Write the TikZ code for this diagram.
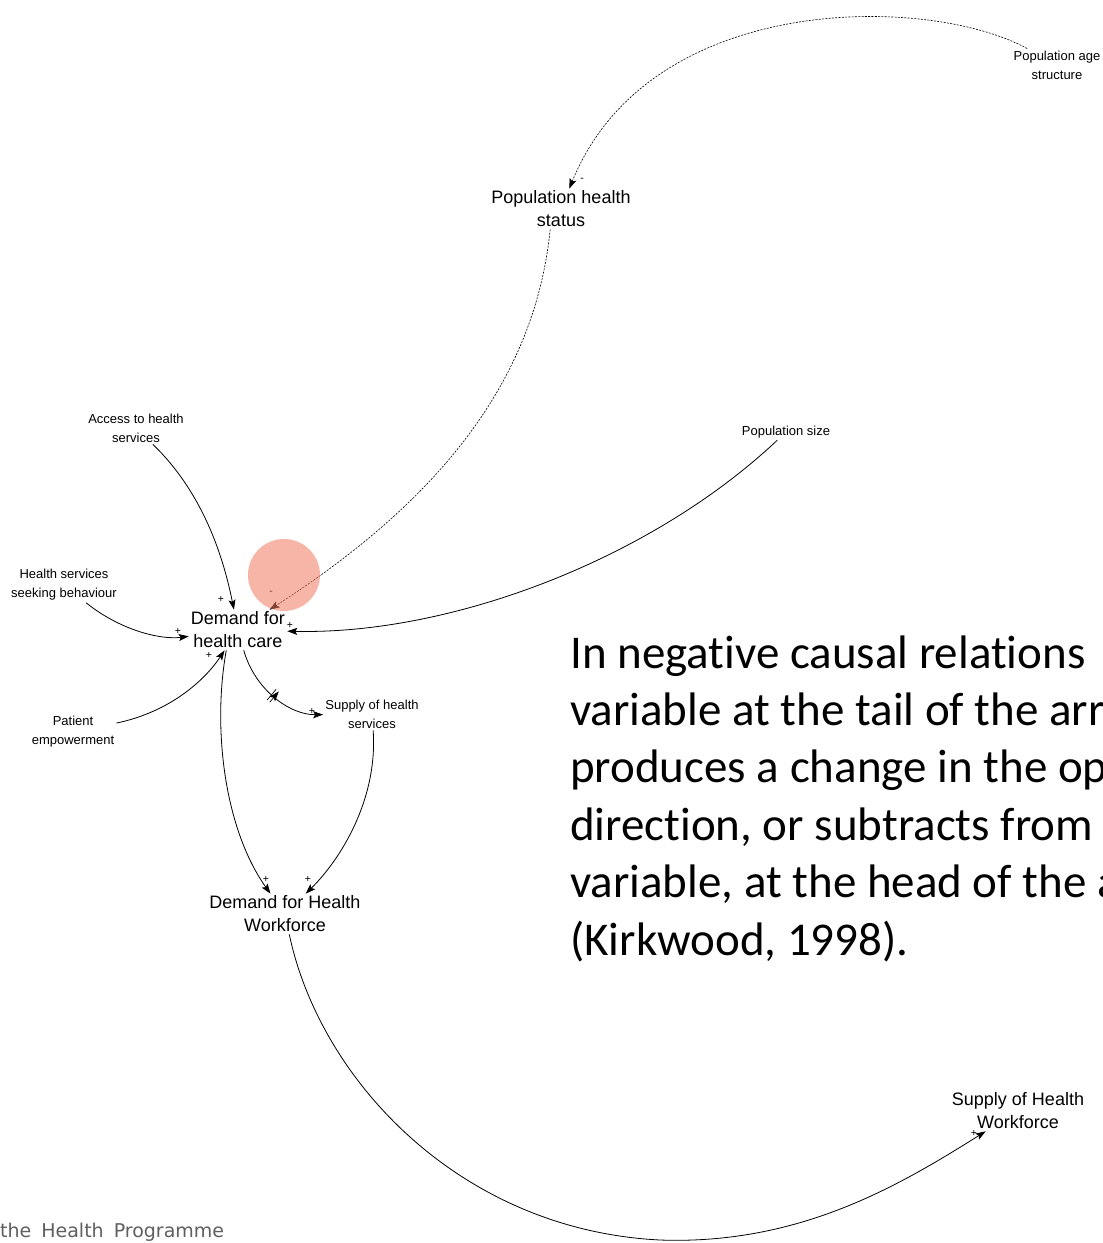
\documentclass[tikz,border=0pt]{standalone}
\usepackage{fontspec}
\setmainfont{Liberation Sans}
\newfontfamily\bodyfont{Carlito}[Ligatures={NoCommon}]
\newfontfamily\footfont{DejaVu Sans}
\usetikzlibrary{arrows.meta,decorations.markings}
\definecolor{hilite}{RGB}{238,120,95}
\definecolor{footgray}{RGB}{95,95,95}

\begin{document}
\begin{tikzpicture}[x=1pt,y=-1pt,
  var/.style={align=center,inner sep=2pt},
  small/.style={var,font=\fontsize{13}{19}\selectfont},
  big/.style={var,font=\fontsize{18}{23}\selectfont},
  sign/.style={inner sep=0pt,font=\fontsize{10.5}{10.5}\selectfont},
  link/.style={line width=0.8pt,-{Stealth[length=10pt,width=7pt,inset=2pt]}},
  dotlink/.style={link,line width=0.6pt,dash pattern=on 2pt off 1.3pt},
  delay/.style={postaction={decorate},decoration={markings,
    mark=at position #1 with {\draw[line width=0.7pt,solid]
      (-1.7pt,-7pt)--(-1.7pt,7pt) (1.7pt,-7pt)--(1.7pt,7pt);}}}
]
\useasboundingbox (0,0) rectangle (1103,1243);
\clip (0,0) rectangle (1103,1243);

% variables
\node[small] (age)    at (1057,65)  {Population age\\structure};
\node[big]   (phs)    at (561,209)  {Population health\\status};
\node[small] (access) at (136,428)  {Access to health\\services};
\node[small] (psize)  at (786,432)  {Population size};
\node[small] (seek)   at (64,585)   {Health services\\seeking behaviour};
\node[big]   (dhc)    at (238,630)  {Demand for\\health care};
\node[small] (emp)    at (73,732)   {Patient\\empowerment};
\node[small] (shs)    at (372,714)  {Supply of health\\services};
\node[big]   (dhw)    at (285,914)  {Demand for Health\\Workforce};
\node[big]   (shw)    at (1018,1111){Supply of Health\\Workforce};

% causal links
\draw[dotlink] (age) .. controls (930,-5) and (650,-10) .. (phs);
\draw[dotlink] (phs.-118) .. controls (535,380) and (440,500) .. (dhc);
\draw[link] (access) .. controls (200,490) and (222,550) .. (dhc);
\draw[link] (seek) .. controls (120,630) and (160,640) .. (dhc);
\draw[link] (emp) .. controls (170,712) and (205,680) .. (dhc);
\draw[link] (psize) .. controls (650,560) and (450,635) .. (dhc);
\draw[link,delay=0.5] (dhc) .. controls (255,690) and (290,715) .. (shs);
\draw[link] (dhc.-120) .. controls (212,730) and (225,830) .. (dhw);
\draw[link] (shs) .. controls (378,800) and (340,860) .. (dhw);
\draw[link] (dhw) .. controls (320,1080) and (460,1230) .. (660,1240)
  coordinate (lag) .. controls (800,1245) and (900,1185) .. (shw);
\draw[line width=0.7pt] ([xshift=-1.7pt,yshift=-7pt]lag) -- ++(0,14)
  ([xshift=1.7pt,yshift=-7pt]lag) -- ++(0,14);

% polarities
\node[sign] (p1)  at (582,180)  {-};
\node[sign] (p2)  at (271,593)  {-};
\node[sign] (p3)  at (221,599)  {+};
\node[sign] (p4)  at (178,631)  {+};
\node[sign] (p5)  at (209,655)  {+};
\node[sign] (p6)  at (290,625)  {+};
\node[sign] (p7)  at (312,711)  {+};
\node[sign] (p8)  at (266,879)  {+};
\node[sign] (p9)  at (308,879)  {+};
\node[sign] (p10) at (974,1133) {+};

% highlight
\node[circle,minimum size=72pt,inner sep=0pt,fill=hilite,fill opacity=0.55] (spot) at (284,575) {};

% explanatory note
\node[anchor=base west,align=left,inner sep=0pt,
  font=\bodyfont\fontsize{47}{57.4}\selectfont] (note) at (570,955)
  {In negative causal relations\\variable at the tail of the arrow\\produces a change in the opposite\\direction, or subtracts from the\\variable, at the head of the arrow\\(Kirkwood, 1998).};

% footer
\node[anchor=base west,inner sep=0pt,text=footgray,
  font=\footfont\fontsize{19}{19}\selectfont] (foot) at (0,1237)
  {the\hspace{10pt}Health\hspace{10pt}Programme};
\end{tikzpicture}
\end{document}
